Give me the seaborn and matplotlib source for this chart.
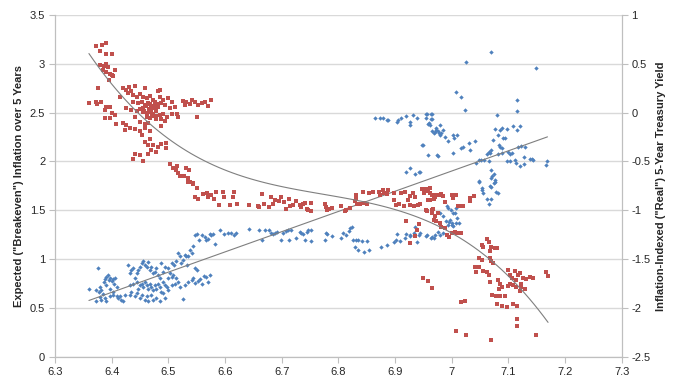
import matplotlib.pyplot as plt
import pandas as pd
import seaborn as sns
from matplotlib.ticker import FuncFormatter, MultipleLocator

# Breakeven inflation (left axis)
blue_pts = [
    (6.360, 0.70), (6.373, 0.69), (6.376, 0.91), (6.378, 0.67), (6.380, 0.72), (6.382, 0.69),
    (6.384, 0.64), (6.386, 0.77), (6.388, 0.80), (6.390, 0.74), (6.391, 0.82), (6.394, 0.84),
    (6.396, 0.79), (6.397, 0.81), (6.398, 0.70), (6.400, 0.78), (6.402, 0.80), (6.404, 0.75),
    (6.406, 0.81), (6.403, 0.67), (6.409, 0.62), (6.410, 0.72), (6.412, 0.60), (6.415, 0.62),
    (6.417, 0.58), (6.420, 0.57), (6.423, 0.63), (6.379, 0.61), (6.382, 0.58), (6.373, 0.57),
    (6.388, 0.60), (6.391, 0.57), (6.398, 0.62), (6.402, 0.63),
    (6.429, 0.94), (6.432, 0.86), (6.435, 0.89), (6.438, 0.91), (6.441, 0.81), (6.444, 0.86),
    (6.447, 0.89), (6.450, 0.92), (6.453, 0.96), (6.456, 0.98), (6.459, 0.94), (6.462, 0.92),
    (6.465, 0.97), (6.467, 0.89), (6.470, 0.92), (6.473, 0.86), (6.476, 0.87), (6.479, 0.91),
    (6.482, 0.84), (6.485, 0.81), (6.432, 0.74), (6.438, 0.75), (6.444, 0.77), (6.447, 0.70),
    (6.450, 0.74), (6.453, 0.75), (6.456, 0.72), (6.459, 0.77), (6.462, 0.74), (6.465, 0.70),
    (6.467, 0.75), (6.470, 0.72), (6.473, 0.69), (6.476, 0.74), (6.479, 0.70), (6.482, 0.75),
    (6.485, 0.72), (6.488, 0.67), (6.491, 0.77), (6.494, 0.74), (6.497, 0.72), (6.500, 0.81),
    (6.503, 0.86), (6.506, 0.82), (6.509, 0.84), (6.432, 0.63), (6.435, 0.67), (6.441, 0.62),
    (6.444, 0.65), (6.450, 0.60), (6.453, 0.63), (6.459, 0.58), (6.462, 0.62), (6.465, 0.57),
    (6.470, 0.63), (6.473, 0.58), (6.479, 0.60), (6.485, 0.57), (6.491, 0.65), (6.494, 0.60),
    (6.500, 0.69), (6.506, 0.74), (6.512, 0.75), (6.514, 0.81), (6.517, 0.77), (6.526, 0.59),
    (6.488, 0.96), (6.494, 0.92), (6.491, 0.87), (6.500, 0.91),
    (6.506, 0.96), (6.510, 0.94), (6.514, 0.98), (6.517, 1.06), (6.520, 1.03), (6.523, 0.96),
    (6.526, 0.99), (6.529, 1.04), (6.532, 1.03), (6.535, 1.03), (6.533, 0.94), (6.538, 1.09),
    (6.541, 1.06), (6.544, 1.14), (6.547, 1.25), (6.551, 1.26), (6.554, 1.20), (6.559, 1.25),
    (6.564, 1.23), (6.566, 1.20), (6.570, 1.21), (6.573, 1.26), (6.576, 1.25), (6.579, 1.26),
    (6.582, 1.16), (6.591, 1.30), (6.598, 1.26), (6.606, 1.27), (6.611, 1.27), (6.616, 1.25),
    (6.619, 1.27),
    (6.520, 0.72), (6.529, 0.74), (6.535, 0.77), (6.541, 0.79), (6.544, 0.81), (6.547, 0.76),
    (6.550, 0.89), (6.553, 0.78), (6.556, 0.80), (6.559, 0.75), (6.563, 0.83), (6.566, 0.82),
    (6.570, 0.77), (6.574, 0.84), (6.547, 0.91),
    (6.642, 1.31), (6.660, 1.30), (6.666, 1.20), (6.670, 1.30), (6.678, 1.30), (6.682, 1.27),
    (6.685, 1.26), (6.688, 1.27), (6.692, 1.28), (6.698, 1.20), (6.702, 1.27), (6.707, 1.29),
    (6.711, 1.30), (6.713, 1.20), (6.717, 1.30), (6.726, 1.22), (6.732, 1.28), (6.735, 1.27),
    (6.738, 1.26), (6.742, 1.20), (6.744, 1.28), (6.747, 1.30), (6.751, 1.30), (6.751, 1.19),
    (6.776, 1.20), (6.778, 1.27), (6.780, 1.26), (6.789, 1.24), (6.805, 1.22), (6.809, 1.27),
    (6.813, 1.25), (6.819, 1.29), (6.821, 1.32), (6.824, 1.33), (6.826, 1.20), (6.829, 1.13),
    (6.831, 1.20), (6.835, 1.09), (6.835, 1.20), (6.841, 1.19), (6.845, 1.07), (6.851, 1.19),
    (6.855, 1.09), (6.876, 1.13), (6.885, 1.15), (6.899, 1.18), (6.903, 1.26), (6.908, 1.19),
    (6.917, 1.22), (6.919, 1.26), (6.927, 1.24), (6.933, 1.27), (6.936, 1.33), (6.942, 1.25),
    (6.955, 1.24), (6.964, 1.22), (6.968, 1.22), (6.902, 1.20), (6.926, 1.25), (6.939, 1.18),
    (6.979, 1.25), (6.985, 1.27), (6.994, 1.35), (7.000, 1.35), (7.008, 1.37), (6.996, 1.38),
    (6.864, 2.44), (6.873, 2.44), (6.878, 2.45), (6.886, 2.42), (6.888, 2.42), (6.903, 2.40),
    (6.906, 2.42), (6.911, 2.45), (6.919, 2.47), (6.926, 2.37), (6.927, 2.40), (6.932, 2.48),
    (6.938, 2.44), (6.955, 2.49), (6.960, 2.39), (6.964, 2.49), (6.964, 2.43), (6.966, 2.31),
    (6.970, 2.30), (6.973, 2.34), (6.978, 2.29), (6.948, 2.17), (6.958, 2.07), (6.974, 2.07),
    (6.919, 1.89), (6.927, 1.93), (6.936, 1.87), (6.943, 1.89),
    (7.069, 3.12), (7.026, 3.02), (7.149, 2.96), (7.007, 2.71), (7.017, 2.66), (7.023, 2.53),
    (7.116, 2.63), (7.116, 2.52), (7.080, 2.48), (6.957, 2.49), (6.965, 2.49), (6.955, 2.45),
    (6.965, 2.43), (6.959, 2.38), (6.962, 2.37), (6.972, 2.32), (6.968, 2.29), (6.976, 2.31),
    (6.980, 2.37), (6.982, 2.29), (6.985, 2.32), (6.988, 2.25), (6.979, 2.27), (6.994, 2.21),
    (7.003, 2.27), (7.004, 2.24), (7.009, 2.27), (6.949, 2.17), (6.975, 2.06), (7.003, 2.09),
    (7.017, 2.14), (7.020, 2.15), (7.031, 2.19), (7.032, 2.12), (7.041, 2.21), (7.051, 2.02),
    (7.049, 2.02), (7.043, 1.98), (7.057, 2.02), (7.065, 2.00), (7.062, 2.08), (7.065, 2.10),
    (7.067, 2.09), (7.070, 2.12), (7.073, 2.22), (7.076, 2.33), (7.082, 2.27), (7.085, 2.32),
    (7.088, 2.34), (7.097, 2.33), (7.084, 2.17), (7.085, 2.15), (7.088, 2.14), (7.090, 2.24),
    (7.094, 2.24), (7.082, 2.08), (7.088, 2.09), (7.100, 2.10), (7.103, 2.08), (7.106, 2.09),
    (7.109, 2.36), (7.116, 2.32), (7.120, 2.36), (7.117, 2.15), (7.123, 2.16), (7.129, 2.15),
    (7.098, 2.00), (7.103, 2.01), (7.112, 2.02), (7.114, 1.98), (7.120, 1.95), (7.127, 2.05),
    (7.127, 1.97), (7.138, 2.03), (7.141, 2.03), (7.144, 2.02), (7.166, 1.96), (7.169, 2.01),
    (7.070, 1.91), (7.075, 1.87), (7.072, 1.85), (7.076, 1.79), (7.069, 1.83), (7.049, 1.79),
    (7.070, 1.74), (7.053, 1.71), (6.944, 1.89),
    (7.049, 1.80), (7.053, 1.73), (7.056, 1.68), (7.062, 1.62), (7.065, 1.57), (7.067, 1.75),
    (7.070, 1.62), (7.075, 1.78), (7.076, 1.81), (7.078, 1.69), (7.082, 1.68), (6.991, 1.54),
    (6.994, 1.52), (6.998, 1.50), (7.003, 1.47), (7.007, 1.52), (7.006, 1.47), (7.010, 1.42),
    (7.013, 1.37), (6.997, 1.40), (7.000, 1.37), (7.003, 1.34), (6.979, 1.47), (6.985, 1.44),
    (6.990, 1.39), (6.976, 1.28), (6.970, 1.25), (6.965, 1.23), (6.956, 1.25), (6.944, 1.27),
]

# Real 5-year yield (right axis)
red_pts = [
    (6.373, 0.68), (6.383, 0.69), (6.390, 0.71), (6.380, 0.63), (6.391, 0.60), (6.400, 0.60),
    (6.379, 0.49), (6.386, 0.48), (6.391, 0.50), (6.394, 0.47), (6.385, 0.44), (6.390, 0.42),
    (6.397, 0.40), (6.403, 0.37), (6.406, 0.44), (6.396, 0.33), (6.400, 0.38),
    (6.376, 0.25), (6.360, 0.10), (6.373, 0.11), (6.375, 0.09), (6.382, 0.11), (6.391, 0.06),
    (6.397, 0.06), (6.388, 0.03), (6.400, 0.00), (6.406, -0.02), (6.388, -0.06), (6.397, -0.06),
    (6.407, -0.12),
    (6.420, 0.25), (6.426, 0.23), (6.431, 0.26), (6.435, 0.22), (6.441, 0.27), (6.459, 0.25),
    (6.415, 0.16), (6.429, 0.20), (6.438, 0.18), (6.444, 0.16), (6.450, 0.19), (6.456, 0.16),
    (6.462, 0.15), (6.467, 0.17), (6.473, 0.13), (6.485, 0.16), (6.482, 0.22), (6.486, 0.23),
    (6.491, 0.13), (6.500, 0.15), (6.506, 0.11), (6.438, 0.11), (6.447, 0.10), (6.453, 0.11),
    (6.459, 0.08), (6.465, 0.10), (6.470, 0.07), (6.476, 0.08), (6.482, 0.06), (6.488, 0.10),
    (6.494, 0.08), (6.503, 0.05), (6.512, 0.06), (6.426, 0.05), (6.435, 0.03), (6.444, 0.02),
    (6.450, 0.04), (6.456, 0.01), (6.462, 0.00), (6.467, 0.03), (6.473, -0.01), (6.479, 0.02),
    (6.485, -0.02), (6.491, -0.01), (6.497, -0.04), (6.506, -0.01), (6.516, -0.01), (6.517, -0.04),
    (6.462, -0.04), (6.467, -0.06), (6.479, -0.07), (6.488, -0.07), (6.494, -0.09), (6.441, -0.04),
    (6.450, -0.10), (6.459, -0.12), (6.465, -0.11), (6.420, -0.11), (6.426, -0.13), (6.423, -0.18),
    (6.432, -0.16), (6.441, -0.17), (6.450, -0.19), (6.459, -0.16), (6.467, -0.19), (6.488, -0.14),
    (6.455, 0.05), (6.460, 0.07), (6.466, 0.04), (6.470, 0.01), (6.475, 0.05), (6.478, -0.03),
    (6.468, 0.09), (6.472, -0.03), (6.458, 0.02), (6.480, 0.09), (6.463, -0.01), (6.476, 0.11),
    (6.526, 0.12), (6.532, 0.11), (6.538, 0.09), (6.547, 0.11), (6.553, 0.08), (6.559, 0.10),
    (6.564, 0.11), (6.570, 0.07), (6.576, 0.13), (6.541, 0.13), (6.529, 0.08), (6.550, -0.04),
    (6.453, -0.23), (6.459, -0.30), (6.467, -0.27), (6.473, -0.33), (6.465, -0.33), (6.482, -0.35),
    (6.488, -0.32), (6.496, -0.31), (6.496, -0.36), (6.470, -0.38), (6.465, -0.42), (6.479, -0.40),
    (6.441, -0.42), (6.450, -0.43), (6.437, -0.47), (6.456, -0.50), (6.503, -0.53),
    (6.509, -0.57), (6.514, -0.59), (6.516, -0.55), (6.518, -0.62), (6.521, -0.65), (6.528, -0.65),
    (6.532, -0.57), (6.537, -0.59), (6.535, -0.67), (6.539, -0.71), (6.544, -0.72), (6.550, -0.77),
    (6.534, -0.71), (6.543, -0.73), (6.547, -0.86), (6.553, -0.88), (6.562, -0.83), (6.568, -0.82),
    (6.570, -0.86), (6.576, -0.84), (6.580, -0.88), (6.585, -0.81), (6.597, -0.81), (6.599, -0.86),
    (6.590, -0.94), (6.609, -0.94), (6.614, -0.86), (6.616, -0.81), (6.622, -0.93), (6.659, -0.96),
    (6.642, -0.95), (6.660, -0.97), (6.666, -0.83), (6.668, -0.93), (6.678, -0.97), (6.681, -0.86),
    (6.685, -0.93), (6.688, -0.89), (6.695, -0.90), (6.698, -0.86), (6.705, -0.91), (6.708, -0.99),
    (6.713, -0.88), (6.714, -0.96), (6.720, -0.95), (6.725, -0.90), (6.732, -0.94), (6.735, -0.97),
    (6.738, -0.93), (6.742, -0.92), (6.744, -0.99), (6.747, -1.00), (6.751, -0.92), (6.751, -1.01),
    (6.776, -0.93), (6.778, -0.97), (6.780, -1.00), (6.784, -0.99), (6.789, -0.98), (6.805, -0.96),
    (6.811, -1.01), (6.814, -0.995), (6.820, -0.98), (6.829, -0.90), (6.831, -0.88), (6.832, -0.84),
    (6.833, -0.93), (6.839, -0.93), (6.844, -0.81), (6.846, -0.92), (6.851, -0.93), (6.855, -0.82),
    (6.862, -0.81), (6.872, -0.81), (6.874, -0.84), (6.878, -0.79), (6.880, -0.82), (6.885, -0.83),
    (6.888, -0.79), (6.898, -0.89), (6.899, -0.82), (6.902, -0.95), (6.907, -0.93), (6.911, -0.82),
    (6.915, -0.96), (6.917, -0.81), (6.923, -0.89), (6.926, -0.85), (6.927, -0.94), (6.932, -0.82),
    (6.933, -0.96), (6.936, -0.86), (6.938, -1.20), (6.941, -0.94), (6.943, -1.14), (6.948, -0.78),
    (6.952, -0.82), (6.955, -1.00), (6.958, -0.89), (6.961, -0.77), (6.962, -0.89), (6.966, -1.03),
    (6.967, -0.99), (6.970, -1.06), (6.973, -0.84), (6.976, -1.03), (6.919, -1.11), (6.927, -1.33),
    (6.935, -1.26),
    (6.955, -0.78), (6.959, -0.80), (6.962, -0.82), (6.965, -0.84), (6.968, -0.88), (6.970, -0.86),
    (6.979, -0.84), (6.982, -0.83), (6.985, -0.85), (6.988, -0.91), (7.000, -0.84), (7.003, -0.87),
    (7.007, -0.84), (7.012, -0.96), (7.017, -0.96), (7.020, -0.96), (7.032, -0.90), (7.033, -0.87),
    (7.039, -0.85), (6.956, -1.01), (6.966, -0.995), (6.969, -1.10), (6.973, -1.11), (6.979, -1.13),
    (6.982, -1.17), (6.988, -1.18), (6.992, -1.25), (6.996, -1.27), (7.000, -1.23), (7.006, -1.22),
    (7.009, -1.23), (7.017, -1.23), (6.944, -0.93),
    (7.053, -1.35), (7.056, -1.37), (7.062, -1.29), (7.065, -1.32), (7.067, -1.42), (7.070, -1.37),
    (7.076, -1.39), (7.080, -1.39), (7.049, -1.49), (7.053, -1.51), (7.067, -1.49), (7.070, -1.52),
    (7.073, -1.54), (7.041, -1.58), (7.049, -1.58), (7.043, -1.63), (7.055, -1.62), (7.062, -1.63),
    (7.065, -1.66), (7.067, -1.73), (7.082, -1.71), (7.085, -1.75), (7.088, -1.78), (7.084, -1.80),
    (7.072, -1.87), (7.078, -1.88), (7.085, -1.88), (7.094, -1.88), (7.080, -1.96), (7.088, -1.98),
    (7.098, -1.99), (7.109, -1.96), (7.116, -1.98), (7.100, -1.61), (7.103, -1.66), (7.106, -1.69),
    (7.112, -1.62), (7.114, -1.71), (7.117, -1.66), (7.120, -1.64), (7.122, -1.78), (7.123, -1.75),
    (7.126, -1.69), (7.129, -1.80), (7.131, -1.70), (7.138, -1.68), (7.144, -1.69), (7.100, -1.77),
    (7.103, -1.75), (7.109, -1.76), (7.114, -1.78), (7.120, -1.82), (7.166, -1.63), (7.170, -1.67),
    (7.116, -2.11), (7.116, -2.18), (7.149, -2.28), (7.007, -2.23), (7.026, -2.28), (7.069, -2.33),
    (6.949, -1.69), (6.959, -1.72), (6.965, -1.79), (7.017, -1.94), (7.023, -1.93),
]

blue = pd.DataFrame(blue_pts, columns=['x', 'y'])
red = pd.DataFrame(red_pts, columns=['x', 'y'])

sns.set_style('white')
plt.rcParams['font.family'] = ['Liberation Sans', 'DejaVu Sans']

fig = plt.figure(figsize=(6.78, 3.81), dpi=100)
ax = fig.add_axes([0.081, 0.063, 0.836, 0.898])
ax2 = ax.twinx()

trend = dict(color='#7f7f7f', lw=0.8)
sns.regplot(data=blue, x='x', y='y', ax=ax, ci=None, marker='D', color='#4F81BD',
            scatter_kws=dict(s=5, linewidths=0, alpha=1), line_kws=trend)
sns.regplot(data=red, x='x', y='y', ax=ax2, ci=None, order=3, marker='s', color='#C0504D',
            scatter_kws=dict(s=7, linewidths=0, alpha=1), line_kws=trend)

ax.set_xlim(6.3, 7.3)
ax.set_ylim(0, 3.5)
ax2.set_ylim(-2.5, 1)
ax.xaxis.set_major_locator(MultipleLocator(0.1))
ax.yaxis.set_major_locator(MultipleLocator(0.5))
ax2.yaxis.set_major_locator(MultipleLocator(0.5))
fmt = FuncFormatter(lambda v, p: f'{round(v, 2):g}')
ax.xaxis.set_major_formatter(fmt)
ax.yaxis.set_major_formatter(fmt)
ax2.yaxis.set_major_formatter(fmt)

ax.grid(axis='y', color='#d9d9d9', lw=1)
ax.grid(axis='x', visible=False)
ax.set_axisbelow(True)

for a in (ax, ax2):
    a.spines['top'].set_visible(False)
    for s in ('left', 'bottom', 'right'):
        a.spines[s].set_color('#bfbfbf')
    a.tick_params(direction='out', length=4, width=0.8, color='#bfbfbf',
                  labelsize=8, labelcolor='#262626', pad=3)
ax.tick_params(left=True, bottom=True)
ax2.tick_params(right=True)

ax.set_xlabel('')
ax.set_ylabel('Expected ("Breakeven") Inflation over 5 Years', fontsize=8, fontweight='bold')
ax2.set_ylabel('Inflation-Indexed ("Real") 5-Year Treasury Yield', fontsize=8, fontweight='bold')

fig.savefig('out.png', dpi=100)
